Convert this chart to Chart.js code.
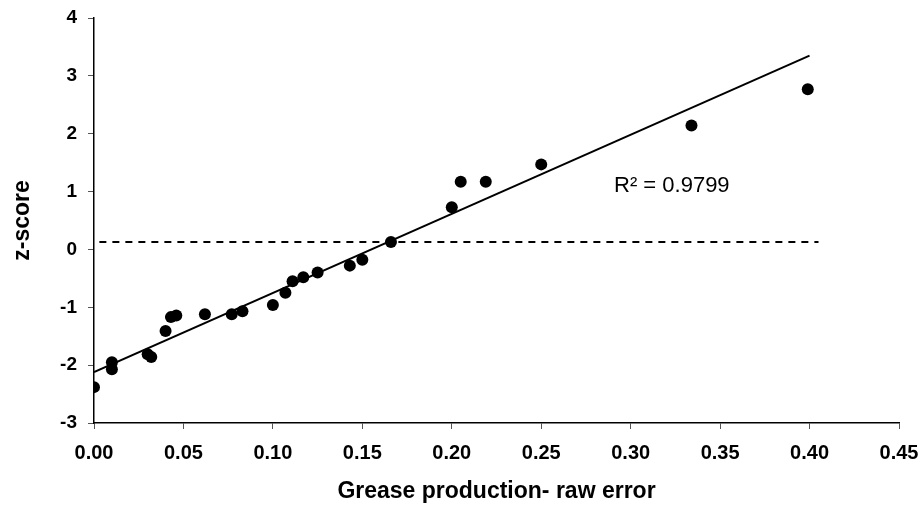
<!DOCTYPE html>
<html>
<head>
<meta charset="utf-8">
<script src="https://cdn.jsdelivr.net/npm/chart.js@4"></script>
<style>
  html, body { margin: 0; padding: 0; background: #fff; }
  #wrap { width: 924px; height: 508px; }
</style>
</head>
<body>
<div id="wrap"><canvas id="zChart" width="924" height="508"></canvas></div>
<script>
// raw error vs z-score
const rawError = [0.000, 0.010, 0.010, 0.030, 0.032, 0.040, 0.043, 0.046, 0.062, 0.077, 0.083,
                  0.100, 0.107, 0.111, 0.117, 0.125, 0.143, 0.150, 0.166, 0.200, 0.205, 0.219,
                  0.250, 0.334, 0.399];
const zScore = [-2.38, -1.95, -2.07, -1.81, -1.86, -1.41, -1.17, -1.14, -1.12, -1.12, -1.07,
                -0.96, -0.75, -0.55, -0.48, -0.40, -0.28, -0.18, 0.13, 0.73, 1.17, 1.17,
                1.47, 2.14, 2.77];

// linear trend (R² = 0.9799)
const trendX = [0, 0.40];
const trendY = [-2.12, 3.35];

// dashed reference level
const refX = [0.003, 0.405];
const refY = [0.13, 0.13];

const xTicks = [0, 0.05, 0.10, 0.15, 0.20, 0.25, 0.30, 0.35, 0.40, 0.45];
const yTicks = [-3, -2, -1, 0, 1, 2, 3, 4];
const r2Label = 'R² = 0.9799';

const toPts = (xs, ys) => xs.map((x, i) => ({ x: x, y: ys[i] }));

const fontFam = "Arial, 'Liberation Sans', sans-serif";

const r2Plugin = {
  id: 'r2Text',
  afterDatasetsDraw(chart) {
    const c = chart.ctx;
    const xs = chart.scales.x, ys = chart.scales.y;
    c.save();
    c.fillStyle = '#000';
    c.font = '22px ' + fontFam;
    c.textAlign = 'center';
    c.textBaseline = 'middle';
    c.fillText(r2Label, xs.getPixelForValue(0.323), ys.getPixelForValue(1.10));
    c.restore();
  }
};

// keep the plot box where the layout padding puts it
const noLabelPad = s => { s.paddingLeft = 0; s.paddingRight = 0; s.paddingTop = 0; s.paddingBottom = 0; };

const axisStyle = {
  grid: { display: true, drawOnChartArea: false, drawTicks: true, tickLength: 6, color: '#555', lineWidth: 1 },
  border: { display: true, color: '#000', width: 1.5 }
};

new Chart(document.getElementById('zChart').getContext('2d'), {
  type: 'scatter',
  data: {
    datasets: [
      {
        label: 'z-score',
        data: toPts(rawError, zScore),
        backgroundColor: '#000',
        borderWidth: 0,
        pointRadius: 6,
        order: 1
      },
      {
        label: 'trend',
        data: toPts(trendX, trendY),
        showLine: true,
        borderColor: '#000',
        borderWidth: 2,
        pointRadius: 0,
        order: 2
      },
      {
        label: 'reference',
        data: toPts(refX, refY),
        showLine: true,
        borderColor: '#000',
        borderWidth: 2,
        borderDash: [7, 6],
        pointRadius: 0,
        order: 3
      }
    ]
  },
  options: {
    responsive: false,
    animation: false,
    layout: { padding: { top: 18, right: 25, bottom: 0, left: 0 } },
    plugins: { legend: { display: false }, tooltip: { enabled: false } },
    scales: {
      x: {
        type: 'linear',
        min: 0, max: 0.45,
        afterBuildTicks(s) { s.ticks = xTicks.map(v => ({ value: v })); },
        afterFit(s) { s.height = 85; noLabelPad(s); },
        ticks: {
          color: '#000',
          padding: 12,
          font: { family: fontFam, size: 20, weight: 'bold' },
          callback: v => v.toFixed(2)
        },
        title: {
          display: true,
          text: 'Grease production- raw error',
          color: '#000',
          font: { family: fontFam, size: 23, weight: 'bold' },
          padding: { top: 0, bottom: 3 }
        },
        ...axisStyle
      },
      y: {
        type: 'linear',
        min: -3, max: 4,
        afterBuildTicks(s) { s.ticks = yTicks.map(v => ({ value: v })); },
        afterFit(s) { s.width = 94; noLabelPad(s); },
        ticks: {
          color: '#000',
          padding: 11,
          font: { family: fontFam, size: 19, weight: 'bold' },
          callback: v => String(v)
        },
        title: {
          display: true,
          text: 'z-score',
          color: '#000',
          font: { family: fontFam, size: 23, weight: 'bold' },
          padding: { top: 9, bottom: 0 }
        },
        ...axisStyle
      }
    }
  },
  plugins: [r2Plugin]
});
</script>
</body>
</html>
